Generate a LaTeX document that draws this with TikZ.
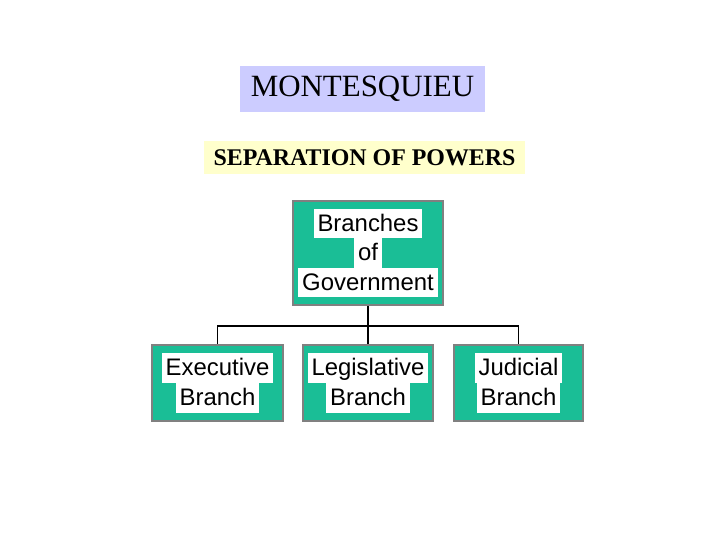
\documentclass[tikz,border=0pt]{standalone}
\usepackage{fontspec}
\setmainfont{Liberation Serif}
\newfontfamily\arialfont{Liberation Sans}
\definecolor{branchgreen}{RGB}{26,190,150}
\definecolor{boxgray}{RGB}{128,128,128}
\definecolor{titleblue}{RGB}{204,204,255}
\definecolor{subyellow}{RGB}{255,255,204}
\newcommand{\hilite}[1]{{\setlength{\fboxsep}{0pt}\colorbox{white}{\rule[-5pt]{0pt}{21pt}\,#1\,}}}
\begin{document}
\begin{tikzpicture}[x=0.025cm,y=-0.025cm,
  branch/.style={draw=boxgray,line width=1.6pt,fill=branchgreen,align=center,
    inner sep=0pt,font=\arialfont\fontsize{17}{21}\selectfont},
  link/.style={line width=1pt}]
\useasboundingbox (0,0) rectangle (720,540);
\node[fill=titleblue,minimum width=6.125cm,minimum height=1.15cm,
  font=\fontsize{22}{26}\selectfont] (title) at (362.5,89) {MONTESQUIEU};
\node[fill=subyellow,minimum width=8.025cm,minimum height=0.825cm,
  font=\bfseries\fontsize{17}{20}\selectfont] (sub) at (364.5,157.5) {SEPARATION OF POWERS};

\node[branch,minimum width=3.75cm,minimum height=2.6cm] (gov) at (368,253)
  {\hilite{Branches}\\\hilite{of}\\\hilite{Government}};
\node[branch,minimum width=3.275cm,minimum height=1.9cm] (exec) at (217.5,383)
  {\hilite{Executive}\\\hilite{Branch}};
\node[branch,minimum width=3.25cm,minimum height=1.9cm] (leg) at (368,383)
  {\hilite{Legislative}\\\hilite{Branch}};
\node[branch,minimum width=3.225cm,minimum height=1.9cm] (jud) at (518.5,383)
  {\hilite{Judicial}\\\hilite{Branch}};

\coordinate (bus) at (368,326);
\draw[link] (gov.south) -- (bus);
\draw[link] (exec.north) |- (bus) -| (jud.north);
\draw[link] (bus) -- (leg.north);
\end{tikzpicture}
\end{document}
